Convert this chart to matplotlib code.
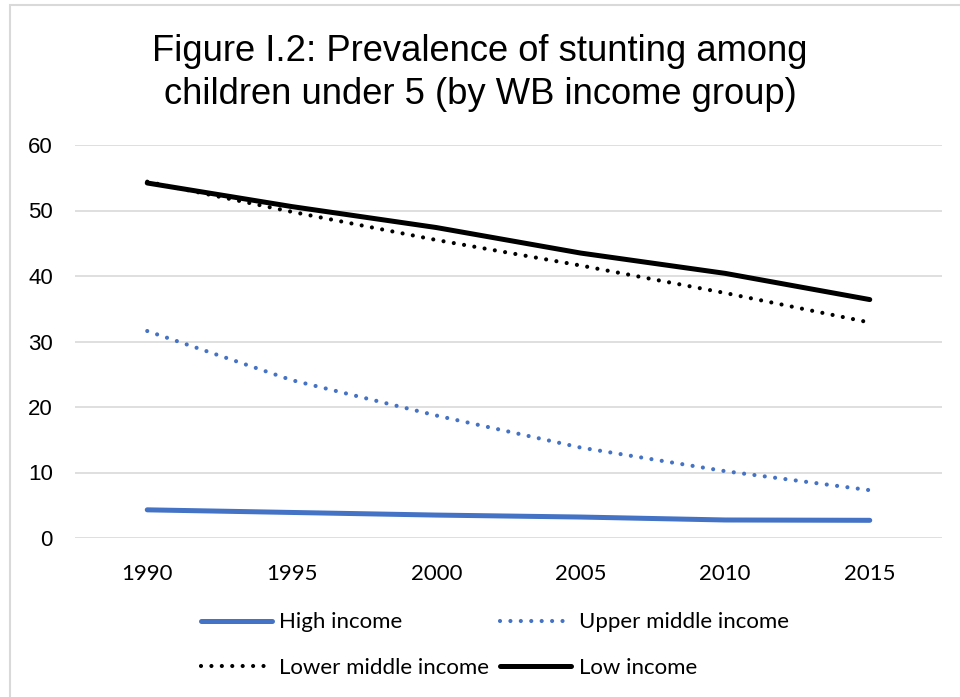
import matplotlib
matplotlib.use("Agg")
import matplotlib.pyplot as plt
from matplotlib.patches import Rectangle

# Values
years = ["1990", "1995", "2000", "2005", "2010", "2015"]
high_income = [4.3, 3.9, 3.5, 3.2, 2.75, 2.7]
upper_middle = [31.6, 24.1, 18.7, 13.8, 10.2, 7.3]
lower_middle = [54.4, 49.8, 45.5, 41.6, 37.4, 32.9]
low_income = [54.2, 50.6, 47.4, 43.5, 40.4, 36.4]
y_ticks = [0, 10, 20, 30, 40, 50, 60]

blue = "#4472C4"
W, H = 960, 697

fig = plt.figure(figsize=(W / 100, H / 100), dpi=100)
ax = fig.add_axes([75 / W, 1 - 538 / H, (942 - 75) / W, (538 - 145) / H])

x = list(range(len(years)))
dots = (0, (0.001, 2.5))
h1, = ax.plot(x, high_income, color=blue, lw=3.6, solid_capstyle="round", label="High income")
h2, = ax.plot(x, upper_middle, color=blue, lw=3.0, linestyle=dots, dash_capstyle="round",
              label="Upper middle income")
h3, = ax.plot(x, lower_middle, color="black", lw=3.0, linestyle=dots, dash_capstyle="round",
              label="Lower middle income")
h4, = ax.plot(x, low_income, color="black", lw=3.6, solid_capstyle="round", label="Low income")

ax.set_xlim(-0.5, len(years) - 0.5)
ax.set_ylim(0, 60)
ax.set_yticks(y_ticks)
ax.set_xticks(x)
ax.set_xticklabels(years, fontfamily="Lato", fontsize=16)
for lab in ax.get_yticklabels():
    lab.set_fontfamily("Liberation Sans")
    lab.set_fontsize(16)
ax.tick_params(axis="y", length=0, pad=16)
ax.tick_params(axis="x", length=0, pad=19)
ax.grid(axis="y", color="#D9D9D9", lw=1.2)
ax.set_axisbelow(True)
for s in ax.spines.values():
    s.set_visible(False)

fig.text(0.5, 1 - 73 / H, "Figure I.2: Prevalence of stunting among\nchildren under 5 (by WB income group)",
         ha="center", va="center", fontfamily="Liberation Sans", fontsize=26.2, linespacing=1.3)

# legend fills column-wise, so order handles to read row-wise like the reference
fig.legend([h1, h3, h2, h4], [h.get_label() for h in (h1, h3, h2, h4)],
           loc="center left", bbox_to_anchor=(201 / W, 1 - 645 / H), ncol=2, frameon=False,
           prop={"family": "Lato", "size": 16}, handlelength=3.2, handletextpad=0.32,
           columnspacing=0.5, labelspacing=1.14, borderpad=0, borderaxespad=0)

fig.patches.append(Rectangle((10 / W, -0.1), 1.2, 1 - 5 / H + 0.1, transform=fig.transFigure,
                             fill=False, edgecolor="#D9D9D9", lw=1.5))

fig.savefig("out.png", dpi=100)
